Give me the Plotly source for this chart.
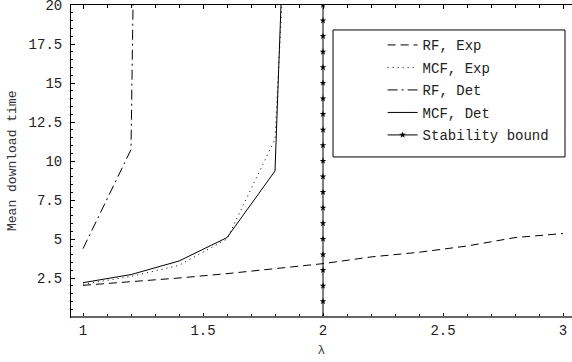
import plotly.graph_objects as go

lam = [1.0, 1.2, 1.4, 1.6, 1.8, 2.0, 2.2, 2.4, 2.6, 2.8, 3.0]
rf_exp = [2.03, 2.25, 2.5, 2.78, 3.08, 3.42, 3.85, 4.15, 4.55, 5.09, 5.35]

lam_mcf = [1.0, 1.2, 1.4, 1.6, 1.8, 1.9]
mcf_exp = [2.1, 2.6, 3.31, 5.0, 11.4, 41.6]
mcf_det = [2.2, 2.72, 3.59, 5.09, 9.36, 52.0]

lam_rfdet = [1.0, 1.2, 1.4]
rf_det = [4.38, 10.73, 230.0]

bound_x = [2.0] * 21
bound_y = list(range(0, 21))

x_ticks = [1, 1.5, 2, 2.5, 3]
x_ticklabels = ["1", "1.5", "2", "2.5", "3"]
y_ticks = [2.5, 5, 7.5, 10, 12.5, 15, 17.5, 20]
y_ticklabels = ["2.5", "5", "7.5", "10", "12.5", "15", "17.5", "20"]

FONT = "Liberation Mono"

fig = go.Figure()
fig.add_trace(go.Scatter(x=lam, y=rf_exp, mode="lines", name="RF, Exp", legendgroup="a",
                         line=dict(color="black", width=1, dash="8px,5px")))
fig.add_trace(go.Scatter(x=lam_mcf, y=mcf_exp, mode="lines", name="MCF, Exp", legendgroup="b",
                         line=dict(color="black", width=1, dash="1px,4px")))
fig.add_trace(go.Scatter(x=lam_rfdet, y=rf_det, mode="lines", name="RF, Det", legendgroup="c",
                         line=dict(color="black", width=1, dash="10px,4px,2px,4px")))
fig.add_trace(go.Scatter(x=lam_mcf, y=mcf_det, mode="lines", name="MCF, Det", legendgroup="d",
                         line=dict(color="black", width=1)))
fig.add_trace(go.Scatter(x=bound_x, y=bound_y, mode="lines+markers", name="Stability bound", legendgroup="e",
                         line=dict(color="black", width=1),
                         marker=dict(symbol="star", size=5, color="black")))

fig.add_shape(type="rect", xref="paper", yref="paper",
              x0=0.523, x1=0.986, y0=0.513, y1=0.92,
              line=dict(color="black", width=1), fillcolor="white", layer="above")
# bottom axis line (grey, slightly heavier as in reference)
fig.add_shape(type="line", xref="paper", yref="paper", x0=0, x1=1, y0=0, y1=0,
              line=dict(color="#666", width=2), layer="above")

fig.add_annotation(text="Mean download time", xref="paper", yref="paper",
                   x=-0.1178, y=0.5, xanchor="center", yanchor="middle",
                   textangle=-90, showarrow=False,
                   font=dict(family=FONT, size=13, color="#333"))

fig.update_layout(
    width=572, height=362,
    margin=dict(l=71, r=0, t=5, b=45),
    paper_bgcolor="white", plot_bgcolor="white",
    font=dict(family=FONT, size=14, color="#222"),
    showlegend=True,
    legend=dict(x=0.622, y=0.922, xanchor="left", yanchor="top",
                bgcolor="rgba(0,0,0,0)", borderwidth=0, tracegroupgap=1.3,
                font=dict(family=FONT, size=14, color="#222")),
    xaxis=dict(range=[0.95, 3.0375], tickmode="array", tickvals=x_ticks, ticktext=x_ticklabels,
               automargin=False, ticklabeloverflow="allow",
               ticks="inside", ticklen=4, tickcolor="black", showgrid=False, zeroline=False,
               showline=True, linecolor="black", linewidth=1, mirror="ticks",
               minor=dict(dtick=0.1, ticks="inside", ticklen=3, tickcolor="black", showgrid=False),
               title=dict(text="λ", font=dict(size=13, color="#444"), standoff=7)),
    yaxis=dict(range=[0, 20], tickmode="array", tickvals=y_ticks, ticktext=y_ticklabels,
               automargin=False, ticklabelstandoff=5, ticklabeloverflow="allow",
               ticks="inside", ticklen=4, tickcolor="black", showgrid=False, zeroline=False,
               showline=True, linecolor="black", linewidth=1,
               minor=dict(dtick=0.5, ticks="inside", ticklen=2, tickcolor="black", showgrid=False)),
)

fig.write_html("out.html", config={"displayModeBar": False},
               post_script="document.body.style.margin='0';")
